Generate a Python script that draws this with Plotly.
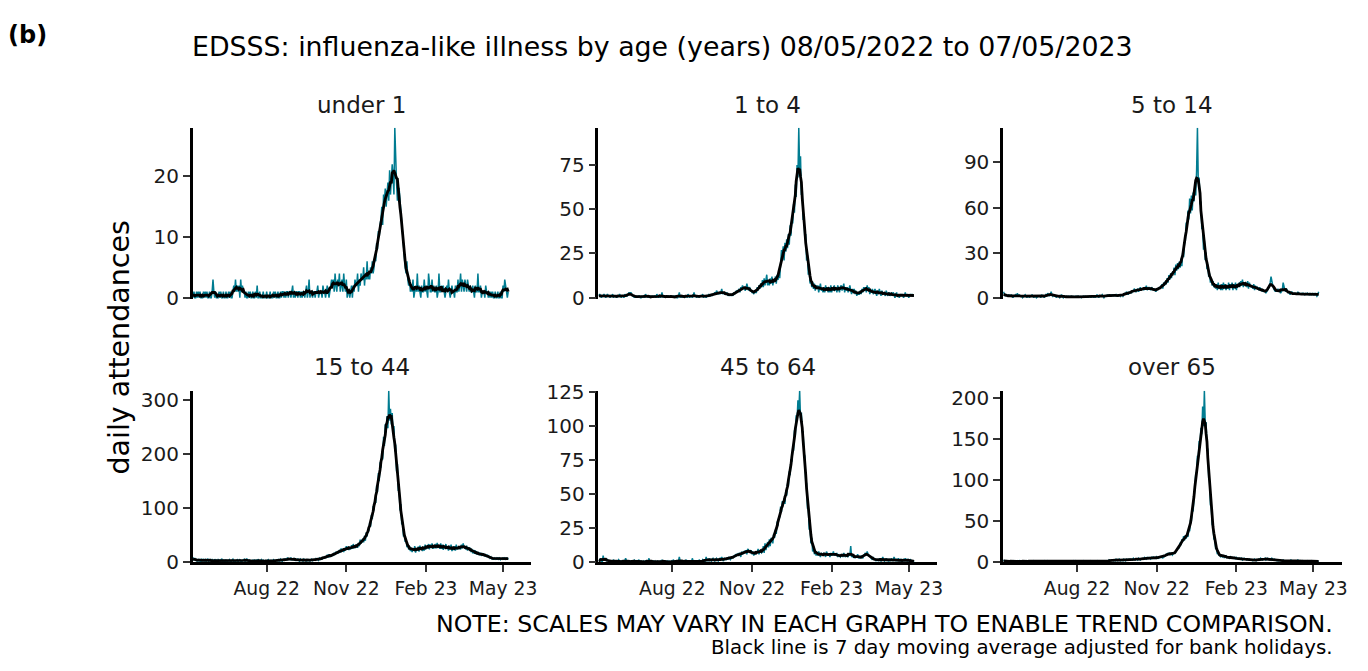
import pandas as pd
import plotly.graph_objects as go

# ---------------- data ----------------
start_date = "2022-05-08"
panel_titles = ["under 1", "1 to 4", "5 to 14", "15 to 44", "45 to 64", "over 65"]
y_dticks = [10, 25, 30, 100, 25, 50]
tick_dates = ["2022-08-01", "2022-11-01", "2023-02-01", "2023-05-01"]
tick_labels = ["Aug 22", "Nov 22", "Feb 23", "May 23"]

under_1 = [
    0,1,0,0,1,0,1, 0,1,0,0,0,1,0, 1,0,1,0,0,1,0, 0,1,3,1,0,1,0,
    0,0,1,0,1,0,0, 1,0,0,1,0,0,1, 0,1,0,0,1,2,1, 3,1,2,1,2,0,3,
    1,2,1,1,0,1,0, 0,1,0,1,0,0,1, 0,0,1,0,2,0,0, 1,0,0,0,1,0,0,
    0,1,0,0,0,1,0, 0,0,1,0,1,0,0, 1,0,0,1,0,1,1, 0,1,0,1,1,0,1,
    1,0,1,2,0,1,0, 1,1,0,1,1,0,1, 0,1,1,0,1,2,0, 1,3,0,1,1,0,1,
    1,0,1,1,2,0,1, 1,1,0,2,1,1,0, 1,2,1,0,1,2,3, 2,3,1,4,2,1,3,
    2,4,1,2,3,1,4, 2,1,3,0,1,1,0, 1,2,0,2,1,3,2, 2,4,1,3,2,4,3,
    3,5,2,4,3,6,3, 4,3,5,4,6,4,5, 7,6,9,8,11,10,12, 13,15,12,17,16,18,15,
    17,19,16,21,17,19,22, 20,17,28,22,19,16,18, 18,16,14,12,10,8,6, 5,4,6,3,2,3,1,
    2,1,3,0,1,2,1, 4,1,2,1,0,2,1, 1,3,1,2,1,0,4, 2,1,1,3,1,2,1,
    1,2,0,1,4,1,1, 2,1,2,1,0,1,2, 1,3,1,0,1,2,1, 1,0,2,1,1,3,1,
    2,4,1,3,2,1,3, 2,1,3,2,1,2,1, 1,2,1,0,2,1,1, 4,1,1,2,0,1,1,
    1,0,2,1,1,0,1, 0,1,0,1,0,0,1, 0,0,1,0,0,1,0, 0,2,1,3,2,1,0,
    1,
]

age_1_to_4 = [
    1,2,1,0,1,1,2, 1,0,1,2,1,1,0, 1,1,2,0,1,1,1, 0,1,1,2,1,0,1,
    1,0,2,1,1,1,2, 3,2,3,2,1,1,0, 1,0,1,0,1,1,0, 0,1,0,1,0,2,1,
    1,0,1,0,1,0,1, 0,1,1,0,2,1,0, 1,0,1,3,0,1,1, 0,1,0,1,1,0,1,
    1,0,1,0,1,1,0, 0,1,3,0,1,0,1, 1,0,1,1,0,2,1, 0,1,1,0,1,3,1,
    1,0,1,1,0,1,1, 1,2,0,1,1,0,1, 1,2,1,1,2,1,2, 2,3,2,4,3,2,3,
    2,3,5,2,3,2,3, 2,3,1,2,1,2,1, 2,1,3,2,3,4,3, 4,5,3,6,5,7,5,
    6,4,5,8,5,4,6, 5,4,3,3,2,4,3, 3,6,4,7,5,8,6, 10,6,11,7,10,13,7,
    10,7,11,8,12,7,10, 9,12,8,13,10,14,11, 20,27,22,29,21,31,26, 33,28,36,30,41,35,45,
    42,53,48,64,57,75,68, 96,72,80,58,61,44,46, 33,36,21,24,13,16,8, 10,6,9,5,8,4,7,
    5,7,3,6,8,4,5, 3,6,3,7,4,6,3, 6,3,7,3,6,4,7, 4,6,3,7,5,3,6,
    7,4,6,8,3,6,4, 6,3,5,7,4,2,5, 3,5,2,4,1,3,2, 2,4,2,5,3,6,4,
    6,3,7,4,6,2,4, 3,5,2,3,5,3,1, 4,2,5,3,1,4,2, 3,2,1,4,2,1,3,
    2,1,3,1,3,2,0, 1,3,1,2,0,1,2, 1,2,0,1,3,1,1, 2,0,1,2,1,2,1,
    1,
]

age_5_to_14 = [
    4,2,1,2,1,1,2, 1,1,2,1,0,1,2, 2,1,3,1,2,1,1, 1,0,1,1,2,1,0,
    1,1,0,1,1,2,1, 0,1,1,0,1,1,1, 1,0,2,1,1,0,1, 2,1,3,2,1,2,4,
    2,1,2,1,1,0,1, 1,1,0,1,2,1,0, 1,0,1,1,0,1,1, 0,1,1,0,1,0,1,
    1,0,1,1,0,1,0, 1,1,0,1,1,0,1, 0,1,1,0,1,1,0, 1,0,1,2,1,0,1,
    1,1,2,1,0,1,1, 1,2,1,2,1,1,2, 2,1,2,1,2,1,2, 1,2,1,2,2,1,2,
    3,2,4,3,2,4,3, 4,3,5,4,6,5,4, 5,6,4,5,7,5,6, 6,5,7,6,8,5,6,
    7,6,5,7,6,5,6, 5,4,6,5,6,7,6, 7,9,6,10,8,11,9, 13,10,15,12,16,13,17,
    16,20,15,22,18,23,19, 24,20,26,21,30,27,36, 38,50,46,58,52,66,56, 68,58,70,64,72,68,84,
    113,76,80,62,64,46,46, 32,38,25,30,19,22,14, 16,10,13,8,11,7,9, 6,9,5,10,6,8,5,
    9,5,10,6,9,5,8, 6,10,5,9,7,10,5, 9,6,10,5,9,7,10, 7,11,8,12,7,10,9,
    10,7,11,6,10,8,7, 8,6,9,5,8,6,7, 6,5,7,5,6,4,5, 4,5,3,4,5,6,8,
    10,14,9,8,6,5,4, 5,4,6,4,5,3,4, 5,10,6,5,4,6,4, 3,4,2,3,4,3,2,
    3,2,3,2,4,2,3, 2,3,2,3,2,2,3, 2,3,2,2,3,2,2, 3,2,2,3,2,1,2,
    4,
]

age_15_to_44 = [
    9,5,7,3,6,2,5, 3,6,1,7,2,5,3, 5,2,4,7,2,3,6, 2,5,3,1,6,3,4,
    1,5,3,4,2,7,3, 4,1,5,2,4,2,3, 5,2,1,4,6,2,3, 2,4,5,1,3,6,2,
    1,3,4,6,2,3,7, 4,1,5,2,3,1,4, 2,5,1,4,2,6,3, 1,3,5,2,4,2,1,
    3,1,4,5,1,3,4, 2,4,5,2,1,4,5, 3,5,2,6,4,2,5, 6,3,7,4,9,5,6,
    5,9,4,7,4,8,3, 6,3,7,4,2,6,4, 5,2,6,4,5,2,6, 3,6,2,5,6,3,5,
    5,4,7,5,6,4,8, 6,9,5,10,7,11,8, 10,14,9,15,11,13,12, 15,12,18,14,20,16,19,
    17,23,18,26,20,25,19, 27,22,30,24,29,23,28, 24,32,25,34,26,31,27, 33,27,36,30,42,35,38,
    44,37,49,40,55,48,60, 58,74,66,88,80,104,96, 118,110,142,130,165,150,185, 175,205,190,232,215,255,240,
    270,248,317,262,284,255,276, 238,252,205,218,168,182,132, 138,96,108,70,75,48,52, 38,44,28,34,24,30,21,
    27,19,25,22,30,18,26, 22,29,20,31,24,28,21, 29,22,33,24,31,26,34, 24,33,27,35,25,31,26,
    34,26,36,27,32,25,35, 25,33,23,31,26,34,25, 29,22,31,24,33,21,28, 23,30,22,33,24,28,25,
    30,24,33,26,35,27,29, 24,31,22,28,25,27,19, 25,17,23,16,22,15,20, 14,19,13,18,12,17,14,
    16,11,15,10,14,9,12, 8,10,6,9,5,8,6, 8,5,9,6,8,5,7, 6,9,5,8,6,9,5,
    8,
]

age_45_to_64 = [
    1,2,3,1,0,5,2, 2,3,1,2,1,0,1, 1,0,1,2,0,1,1, 0,1,2,1,0,1,0,
    1,0,1,3,1,0,1, 0,1,0,1,1,0,2, 1,0,1,0,2,1,0, 1,0,0,1,0,1,0,
    0,1,3,0,1,0,1, 1,0,1,0,0,1,0, 0,1,0,2,0,1,1, 1,0,1,0,1,0,0,
    1,0,2,1,0,1,0, 0,1,4,1,0,1,1, 1,0,1,2,0,1,0, 1,1,0,3,1,0,1,
    0,1,1,0,2,1,0, 1,2,1,0,1,4,1, 2,1,3,2,1,2,3, 2,1,2,3,2,1,2,
    3,2,4,2,1,3,2, 2,3,2,4,3,2,3, 4,3,5,4,6,5,6, 5,7,6,4,8,6,7,
    8,7,9,6,10,9,8, 7,9,6,8,5,7,6, 8,7,10,6,9,8,7, 8,12,7,14,9,13,15,
    11,17,12,18,16,14,21, 18,24,21,30,27,34,33, 41,37,45,42,47,43,53, 49,58,56,67,64,76,74,
    84,82,97,93,108,104,119, 110,126,106,110,96,96,80, 78,60,58,40,40,24,26, 14,18,8,12,6,9,5,
    7,5,8,6,4,7,6, 5,7,6,4,8,6,5, 6,4,7,5,6,8,5, 6,5,7,4,6,5,4,
    5,6,4,7,5,4,6, 5,4,6,5,12,4,5, 4,5,3,5,4,6,3, 4,3,5,4,3,5,6,
    7,5,8,6,5,4,3, 3,2,4,2,3,1,2, 2,1,3,2,1,2,4, 2,1,2,3,1,2,1,
    2,1,3,2,1,4,2, 1,2,1,3,1,2,1, 2,1,2,1,3,1,2, 1,2,1,2,1,1,0,
    1,
]

over_65 = [
    3,2,1,2,1,2,1, 1,2,1,1,2,1,2, 1,1,2,1,0,2,1, 2,1,1,2,1,1,2,
    1,2,1,1,2,1,1, 2,1,2,1,1,2,1, 1,2,1,1,1,2,1, 1,1,2,1,2,1,1,
    2,1,1,2,1,1,2, 1,1,2,1,1,2,1, 1,2,1,1,2,1,1, 2,1,1,1,2,1,2,
    1,1,2,1,1,2,1, 1,2,1,2,1,1,2, 2,1,2,1,2,2,1, 1,2,2,1,2,1,2,
    2,1,2,2,1,2,2, 2,2,1,3,2,2,3, 3,2,3,2,4,3,2, 3,4,2,3,3,2,4,
    3,2,4,3,3,4,3, 4,3,3,5,4,3,4, 4,3,5,4,3,4,5, 5,4,6,5,4,6,5,
    6,5,4,6,5,7,5, 6,5,7,6,5,6,7, 6,7,5,8,7,9,10, 9,11,10,12,10,11,9,
    10,12,11,13,14,16,18, 18,24,21,28,25,32,27, 33,29,34,31,40,38,52, 50,64,62,82,86,108,110,
    130,128,148,144,164,156,190, 166,209,170,170,140,138,102, 100,70,68,46,44,28,29, 17,17,10,12,8,10,7,
    8,7,9,6,7,8,6, 7,6,5,7,6,5,6, 5,6,4,6,5,4,5, 5,4,5,3,4,5,4,
    4,3,4,3,4,3,3, 3,2,3,4,3,2,3, 3,4,3,5,4,3,4, 4,5,3,4,5,4,3,
    4,3,5,4,3,4,3, 3,2,3,2,3,2,2, 2,3,2,2,1,2,2, 2,1,2,3,2,1,2,
    2,2,1,2,3,2,1, 2,1,2,1,2,2,1, 1,2,1,2,1,1,2, 1,2,1,1,2,1,1,
    1,
]

series = [under_1, age_1_to_4, age_5_to_14, age_15_to_44, age_45_to_64, over_65]
for name, s in zip(panel_titles, series):
    if len(s) != 365:
        raise ValueError(f"{name}: {len(s)} values")

# ---------------- figure ----------------
W, H = 1368, 671
TEAL = "#007C91"
FONT = "DejaVu Sans"


def px(X):
    return X / W


def py(Y):
    return 1 - Y / H


col_px = [(193.5, 533.5), (601.0, 941.0), (1007.5, 1347.5)]
row_px = [(121.0, 298.3), (393.3, 571.0)]

fig = go.Figure()
annotations = []

for i, (title, vals) in enumerate(zip(panel_titles, series)):
    r, c = divmod(i, 3)
    n = i + 1
    xa = "x" if n == 1 else f"x{n}"
    ya = "y" if n == 1 else f"y{n}"
    dates = pd.date_range(start_date, periods=len(vals), freq="D")
    s = pd.Series(vals, index=dates, dtype=float)
    ma = s.rolling(7, center=True, min_periods=1).mean()

    fig.add_trace(go.Scatter(x=dates, y=s.values, mode="lines",
                             line=dict(color=TEAL, width=1.5),
                             xaxis=xa, yaxis=ya, showlegend=False, hoverinfo="skip"))
    fig.add_trace(go.Scatter(x=dates, y=ma.values, mode="lines",
                             line=dict(color="black", width=2.8),
                             xaxis=xa, yaxis=ya, showlegend=False, hoverinfo="skip"))

    x0, x1 = col_px[c]
    ytop, ybot = row_px[r]
    ymax = max(vals)
    ymin = 0 if r == 1 else -ymax * 0.008
    bottom = r == 1

    fig.layout[("xaxis" if n == 1 else f"xaxis{n}")] = dict(
        domain=[px(x0), px(x1)], anchor=ya,
        range=["2022-05-07 12:00", "2023-06-02 12:00"],
        tickvals=tick_dates, ticktext=tick_labels,
        showticklabels=bottom, ticks="outside" if bottom else "",
        ticklen=7, tickwidth=2, tickcolor="#333333",
        showline=bottom, linecolor="black", linewidth=2.5,
        showgrid=False, zeroline=False,
        tickfont=dict(family=FONT, size=18.8, color="#1a1a1a"),
    )
    fig.layout[("yaxis" if n == 1 else f"yaxis{n}")] = dict(
        domain=[py(ybot), py(ytop)], anchor=xa,
        range=[ymin, ymax], tick0=0, dtick=y_dticks[i],
        ticks="outside", ticklen=7, tickwidth=2, tickcolor="#333333",
        showline=True, linecolor="black", linewidth=2.5,
        showgrid=False, zeroline=False,
        tickfont=dict(family=FONT, size=20, color="#1a1a1a"),
    )
    annotations.append(dict(text=title, x=px((x0 + x1) / 2),
                            y=py(97 if r == 0 else 369),
                            xref="paper", yref="paper", showarrow=False,
                            xanchor="center", yanchor="middle",
                            font=dict(family=FONT, size=23, color="#1a1a1a")))

annotations += [
    dict(text="EDSSS: influenza-like illness by age (years) 08/05/2022 to 07/05/2023",
         x=px(665.5), y=py(37), xref="paper", yref="paper", showarrow=False,
         xanchor="center", yanchor="middle", font=dict(family=FONT, size=26.8, color="black")),
    dict(text="<b>(b)</b>", x=px(27.5), y=py(25), xref="paper", yref="paper",
         showarrow=False, xanchor="center", yanchor="middle",
         font=dict(family=FONT, size=24, color="black")),
    dict(text="daily attendances", x=px(120), y=py(348), xref="paper", yref="paper",
         showarrow=False, textangle=-90, xanchor="center", yanchor="middle",
         font=dict(family=FONT, size=28.5, color="black")),
    dict(text="NOTE: SCALES MAY VARY IN EACH GRAPH TO ENABLE TREND COMPARISON.",
         x=px(1341), y=py(635), xref="paper", yref="paper", showarrow=False,
         xanchor="right", yanchor="middle", font=dict(family=FONT, size=23.7, color="black")),
    dict(text="Black line is 7 day moving average adjusted for bank holidays.",
         x=px(1341), y=py(659), xref="paper", yref="paper", showarrow=False,
         xanchor="right", yanchor="middle", font=dict(family=FONT, size=19.8, color="black")),
]

fig.update_layout(
    width=W, height=H, autosize=False,
    margin=dict(l=0, r=0, t=0, b=0),
    paper_bgcolor="white", plot_bgcolor="white",
    annotations=annotations, showlegend=False,
)

# remove the page's default body margin so the figure sits at the window origin
page_js = ("document.documentElement.style.margin='0';"
           "document.body.style.margin='0';document.body.style.padding='0';"
           "document.documentElement.style.overflow='hidden';"
           "document.body.style.overflow='hidden';")

fig.write_html("out.html", config={"displayModeBar": False}, post_script=page_js)
